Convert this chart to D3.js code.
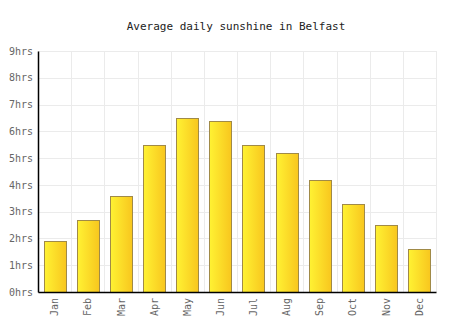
<!DOCTYPE html>
<html><head><meta charset="utf-8">
<script src="https://cdn.jsdelivr.net/npm/d3@7"></script>
<style>body{margin:0;background:#fff}svg{display:block}</style>
</head><body>
<script>
const months = ["Jan","Feb","Mar","Apr","May","Jun","Jul","Aug","Sep","Oct","Nov","Dec"];
const sunshine = [1.9,2.7,3.6,5.5,6.5,6.4,5.5,5.2,4.2,3.3,2.5,1.6];
const yTicks = [0,1,2,3,4,5,6,7,8,9];
const title = "Average daily sunshine in Belfast";

const W=474,H=331;
const m={left:38,right:38,top:51,bottom:39};
const svg=d3.select("body").append("svg").attr("width",W).attr("height",H);
const defs=svg.append("defs");
const g1=defs.append("linearGradient").attr("id","bg").attr("x1","0").attr("x2","1").attr("y1","0").attr("y2","0");
g1.append("stop").attr("offset","0%").attr("stop-color","#fff233");
g1.append("stop").attr("offset","100%").attr("stop-color","#f8c61e");

const x=d3.scaleBand().domain(months).range([m.left,W-m.right]).paddingInner(0.33).paddingOuter(0.17);
const y=d3.scaleLinear().domain([0,9]).range([H-m.bottom,m.top]);

const font="'DejaVu Sans Mono', monospace";
svg.append("text").attr("x",236).attr("y",30).attr("text-anchor","middle")
  .attr("font-family",font).attr("font-size",11).attr("fill","#222").text(title);

// grid
const grid=svg.append("g").attr("stroke","#ebebeb").attr("stroke-width",1);
yTicks.forEach(t=>grid.append("line").attr("x1",m.left).attr("x2",W-m.right).attr("y1",Math.round(y(t))+0.5).attr("y2",Math.round(y(t))+0.5));
const step=x.step();
months.forEach((d,i)=>{const xx=Math.round(m.left+(i+1)*(W-m.left-m.right)/12)+0.5;
  grid.append("line").attr("x1",xx).attr("x2",xx).attr("y1",m.top).attr("y2",H-m.bottom);});

// bars
svg.append("g").selectAll("rect").data(sunshine).join("rect")
  .attr("x",(d,i)=>Math.round(x(months[i]))+0.5).attr("width",Math.round(x.bandwidth()))
  .attr("y",d=>Math.round(y(d))+0.5).attr("height",d=>Math.round(y(0))-Math.round(y(d)))
  .attr("fill","url(#bg)").attr("stroke","#a08a48").attr("stroke-width",1);

// axes
const ya=svg.append("g").attr("transform",`translate(${m.left},0)`)
  .call(d3.axisLeft(y).tickValues(yTicks).tickSize(0).tickPadding(5).tickFormat(d=>d+"hrs"));
ya.select(".domain").attr("stroke","#000").attr("stroke-width",1.5);
ya.selectAll("text").attr("font-family",font).attr("font-size",10).attr("fill","#666");

const xa=svg.append("g").attr("transform",`translate(0,${H-m.bottom})`)
  .call(d3.axisBottom(x).tickSize(0).tickPadding(0));
xa.select(".domain").attr("stroke","#000").attr("stroke-width",1.5);
xa.selectAll("text").attr("font-family",font).attr("font-size",10).attr("fill","#666")
  .attr("transform","rotate(-90)").attr("text-anchor","end").attr("dx","-6").attr("dy","0.35em").attr("x",0).attr("y",0)
  .each(function(){});
xa.selectAll(".tick text").attr("transform","rotate(-90)");
</script>
</body></html>
